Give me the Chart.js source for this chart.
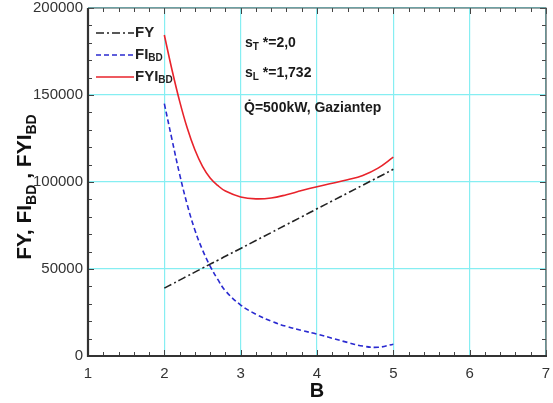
<!DOCTYPE html>
<html>
<head>
<meta charset="utf-8">
<script src="https://cdn.jsdelivr.net/npm/chart.js@4.4.1/dist/chart.umd.min.js"></script>
<style>
  html, body { margin: 0; padding: 0; background: #fff; }
  #wrap { width: 553px; height: 403px; }
</style>
</head>
<body>
<div id="wrap"><canvas id="chart"></canvas></div>
<script>
const B = [2, 2.1, 2.2, 2.3, 2.4, 2.5, 2.6, 2.7, 2.8, 3.0, 3.2, 3.4, 3.6, 3.8, 4.0, 4.2, 4.4, 4.6, 4.8, 5.0];
const FY = [39000, 41300, 43600, 45900, 48200, 50500, 52800, 55000, 57300, 61800, 66400, 70900, 75500, 80000, 84600, 89100, 93600, 98200, 102700, 107300];
const FI_BD = [145000, 124500, 104500, 87000, 72400, 61000, 51700, 44000, 37500, 29300, 24000, 20000, 17000, 14700, 12600, 10200, 7800, 5700, 5000, 6800];
const FYI_BD = [184500, 164500, 146500, 131000, 118500, 109000, 102300, 98000, 94800, 91400, 90300, 90800, 92700, 95100, 97300, 99300, 101300, 103800, 108000, 114300];

const xTicks = [1, 2, 3, 4, 5, 6, 7];
const yTicks = [0, 50000, 100000, 150000, 200000];

const FONT = '"Liberation Sans", Arial, sans-serif';
const GRID = '#86eef2';

const toPoints = (ys) => B.map((b, i) => ({ x: b, y: ys[i] }));

// draws a string made of normal and subscript parts, starting at x
function drawRich(ctx, parts, x, y, size, weight) {
  parts.forEach((p) => {
    const s = p.sub ? Math.round(size * 0.68) : size;
    ctx.font = `${weight} ${s}px ${FONT}`;
    ctx.fillText(p.t, x, p.sub ? y + size * 0.22 : y);
    x += ctx.measureText(p.t).width;
  });
  return x;
}

function richWidth(ctx, parts, size, weight) {
  let w = 0;
  parts.forEach((p) => {
    const s = p.sub ? Math.round(size * 0.68) : size;
    ctx.font = `${weight} ${s}px ${FONT}`;
    w += ctx.measureText(p.t).width;
  });
  return w;
}

const framePlugin = {
  id: 'frame',
  afterDraw(chart) {
    const { ctx, chartArea: a, scales } = chart;
    ctx.save();

    // minor / major ticks, inside, on every side
    ctx.strokeStyle = '#444';
    ctx.lineWidth = 1;
    ctx.beginPath();
    for (let v = 1; v <= 7.0001; v += 0.2) {
      const px = Math.round(scales.x.getPixelForValue(v)) + 0.5;
      const len = Math.abs(v - Math.round(v)) < 0.01 ? 6 : 4;
      ctx.moveTo(px, a.bottom); ctx.lineTo(px, a.bottom - len);
      ctx.moveTo(px, a.top); ctx.lineTo(px, a.top + len);
    }
    for (let v = 0; v <= 200000; v += 10000) {
      const py = Math.round(scales.y.getPixelForValue(v)) + 0.5;
      const len = v % 50000 === 0 ? 6 : 4;
      ctx.moveTo(a.left, py); ctx.lineTo(a.left + len, py);
      ctx.moveTo(a.right, py); ctx.lineTo(a.right - len, py);
    }
    ctx.stroke();

    // box
    ctx.strokeStyle = '#555';
    ctx.lineWidth = 1.2;
    ctx.beginPath();
    ctx.moveTo(a.left, a.top); ctx.lineTo(a.right, a.top); ctx.lineTo(a.right, a.bottom);
    ctx.stroke();
    ctx.strokeStyle = '#333';
    ctx.lineWidth = 2.2;
    ctx.beginPath();
    ctx.moveTo(a.left, a.top); ctx.lineTo(a.left, a.bottom); ctx.lineTo(a.right + 1, a.bottom);
    ctx.stroke();

    // legend
    const legend = [
      { parts: [{ t: 'FY' }], color: '#222', dash: [8, 3, 2, 3] },
      { parts: [{ t: 'FI' }, { t: 'BD', sub: true }], color: '#2a2ad0', dash: [5, 3] },
      { parts: [{ t: 'FYI' }, { t: 'BD', sub: true }], color: '#e8232b', dash: [] },
    ];
    const rows = [33, 55, 77];
    legend.forEach((item, i) => {
      ctx.strokeStyle = item.color;
      ctx.lineWidth = 1.6;
      ctx.setLineDash(item.dash);
      ctx.beginPath();
      ctx.moveTo(96, rows[i]); ctx.lineTo(134, rows[i]);
      ctx.stroke();
      ctx.setLineDash([]);
      ctx.fillStyle = '#222';
      ctx.textBaseline = 'middle';
      drawRich(ctx, item.parts, 135, rows[i], 15, '600');
    });

    // annotations
    ctx.fillStyle = '#1a1a1a';
    ctx.textBaseline = 'alphabetic';
    drawRich(ctx, [{ t: 's' }, { t: 'T', sub: true }, { t: ' *=2,0' }], 245, 47, 14, 'bold');
    drawRich(ctx, [{ t: 's' }, { t: 'L', sub: true }, { t: ' *=1,732' }], 245, 77, 14, 'bold');
    drawRich(ctx, [{ t: 'Q\u0307=500kW, Gaziantep' }], 244, 112, 14, 'bold');

    // y axis title
    const yParts = [
      { t: 'FY, FI' }, { t: 'BD', sub: true }, { t: ' , FYI' }, { t: 'BD', sub: true },
    ];
    ctx.translate(31, 187);
    ctx.rotate(-Math.PI / 2);
    const w = richWidth(ctx, yParts, 21, 'bold');
    ctx.fillStyle = '#111';
    drawRich(ctx, yParts, -w / 2, 0, 21, 'bold');

    ctx.restore();
  },
};

new Chart(document.getElementById('chart'), {
  type: 'line',
  data: {
    datasets: [
      {
        label: 'FY',
        data: toPoints(FY),
        borderColor: '#222',
        borderWidth: 1.6,
        borderDash: [8, 3, 2, 3],
        pointRadius: 0,
        tension: 0.4,
      },
      {
        label: 'FI_BD',
        data: toPoints(FI_BD),
        borderColor: '#2a2ad0',
        borderWidth: 1.6,
        borderDash: [5, 3],
        pointRadius: 0,
        tension: 0.4,
      },
      {
        label: 'FYI_BD',
        data: toPoints(FYI_BD),
        borderColor: '#e8232b',
        borderWidth: 1.6,
        pointRadius: 0,
        tension: 0.4,
      },
    ],
  },
  options: {
    responsive: true,
    maintainAspectRatio: false,
    animation: false,
    layout: { padding: { top: 8, right: 7, left: 0, bottom: 0 } },
    plugins: {
      legend: { display: false },
      tooltip: { enabled: false },
    },
    scales: {
      x: {
        type: 'linear',
        min: 1,
        max: 7,
        afterFit: (s) => {
          s.height = 47;
          s.paddingLeft = 0;
          s.paddingRight = 0;
        },
        afterBuildTicks: (s) => { s.ticks = xTicks.map((v) => ({ value: v })); },
        grid: { color: GRID, lineWidth: 1.2, drawTicks: false },
        border: { display: false },
        ticks: {
          padding: 9,
          color: '#333',
          font: { family: FONT, size: 15 },
        },
        title: {
          display: true,
          text: 'B',
          color: '#111',
          padding: { top: 0, bottom: 0 },
          font: { family: FONT, size: 20, weight: 'bold' },
        },
      },
      y: {
        min: 0,
        max: 200000,
        afterFit: (s) => {
          s.width = 88;
          s.paddingTop = 0;
          s.paddingBottom = 0;
        },
        afterBuildTicks: (s) => { s.ticks = yTicks.map((v) => ({ value: v })); },
        grid: { color: GRID, lineWidth: 1.2, drawTicks: false },
        border: { display: false },
        ticks: {
          padding: 5,
          color: '#333',
          font: { family: FONT, size: 15 },
          callback: (v) => String(v),
        },
      },
    },
  },
  plugins: [framePlugin],
});
</script>
</body>
</html>
